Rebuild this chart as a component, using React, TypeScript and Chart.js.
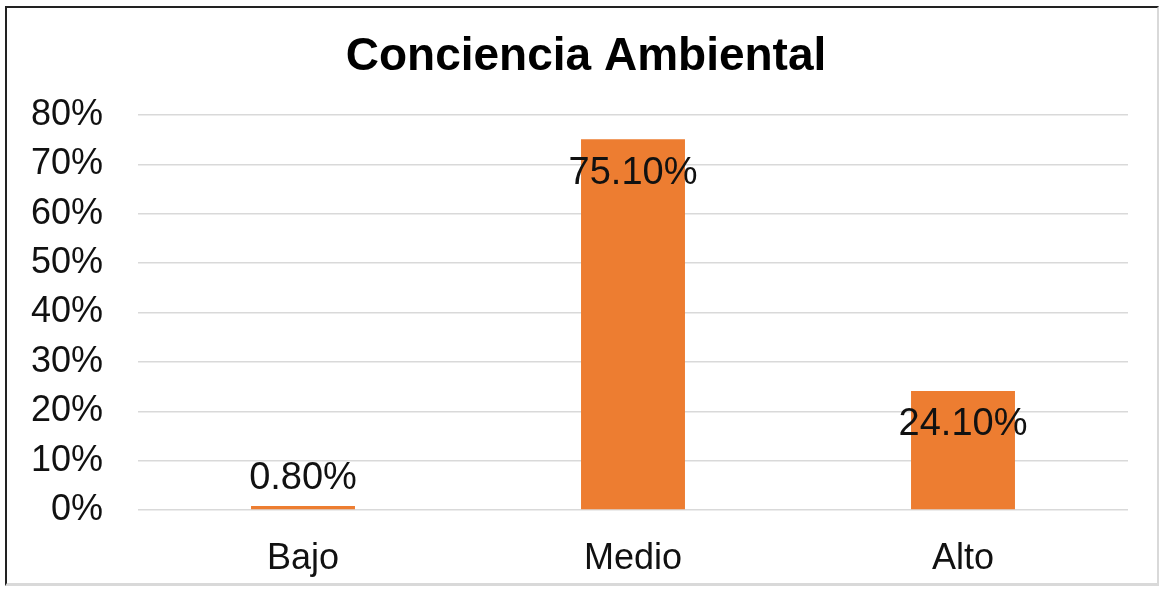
import React, { useEffect, useRef } from "react";
import { Chart, registerables } from "chart.js";

Chart.register(...registerables);

const categories: string[] = ["Bajo", "Medio", "Alto"];
const values: number[] = [0.8, 75.1, 24.1];
const valueLabels: string[] = ["0.80%", "75.10%", "24.10%"];
const yTicks: number[] = [0, 10, 20, 30, 40, 50, 60, 70, 80];
const titleText = "Conciencia Ambiental";

const FONT = "'Liberation Sans', Arial, sans-serif";

const dataLabelPlugin = {
  id: "dataLabels",
  afterDatasetsDraw(chart: any) {
    const ctx = chart.ctx;
    const meta = chart.getDatasetMeta(0);
    ctx.save();
    ctx.font = `38px ${FONT}`;
    ctx.fillStyle = "#111";
    ctx.textAlign = "center";
    ctx.textBaseline = "middle";
    meta.data.forEach((bar: any, i: number) => {
      const h = bar.base - bar.y;
      const y = h > 60 ? bar.y + 34 : bar.y - 28;
      ctx.fillText(valueLabels[i], bar.x, y);
    });
    ctx.restore();
  },
};

const titlePlugin = {
  id: "customTitle",
  afterDraw(chart: any) {
    const ctx = chart.ctx;
    ctx.save();
    ctx.font = `bold 46px ${FONT}`;
    ctx.fillStyle = "#000";
    ctx.textAlign = "center";
    ctx.textBaseline = "alphabetic";
    ctx.fillText(titleText, 586, 70);
    ctx.restore();
  },
};

export default function App() {
  const ref = useRef<HTMLCanvasElement | null>(null);
  useEffect(() => {
    if (!ref.current) return;
    const chart = new Chart(ref.current, {
      type: "bar",
      data: {
        labels: categories,
        datasets: [
          {
            data: values,
            backgroundColor: "#ED7D31",
            borderWidth: 0,
            categoryPercentage: 1,
            barPercentage: 0.315,
          },
        ],
      },
      options: {
        responsive: false,
        animation: false,
        layout: { padding: { left: 0, right: 34, top: 115, bottom: 0 } },
        plugins: {
          legend: { display: false },
          tooltip: { enabled: false },
          title: { display: false },
        },
        scales: {
          x: {
            grid: { display: false },
            border: { display: false },
            ticks: {
              color: "#111",
              font: { family: FONT, size: 36 },
              padding: 19,
            },
            afterFit: (s: any) => {
              s.height = 80;
            },
          },
          y: {
            min: 0,
            max: 80,
            afterBuildTicks: (s: any) => {
              s.ticks = yTicks.map((v) => ({ value: v }));
            },
            grid: { color: "#d9d9d9", lineWidth: 1.5, drawTicks: false },
            border: { display: false },
            ticks: {
              color: "#111",
              font: { family: FONT, size: 36 },
              padding: 35,
              callback: (v: any) => `${v}%`,
            },
            afterFit: (s: any) => {
              s.width = 138;
            },
          },
        },
      },
      plugins: [dataLabelPlugin, titlePlugin],
    });
    return () => chart.destroy();
  }, []);

  return (
    <div style={{ position: "absolute", left: 0, top: 0, width: 1162, height: 590, background: "#fff" }}>
      <div
        style={{
          position: "absolute",
          left: 5,
          top: 6,
          width: 1154,
          height: 580,
          borderLeft: "2px solid #222",
          borderTop: "2px solid #222",
          borderRight: "2px solid #d9d9d9",
          borderBottom: "3px solid #d9d9d9",
          boxSizing: "border-box",
        }}
      />
      <canvas ref={ref} width={1162} height={590} style={{ position: "absolute", left: 0, top: 0 }} />
    </div>
  );
}
